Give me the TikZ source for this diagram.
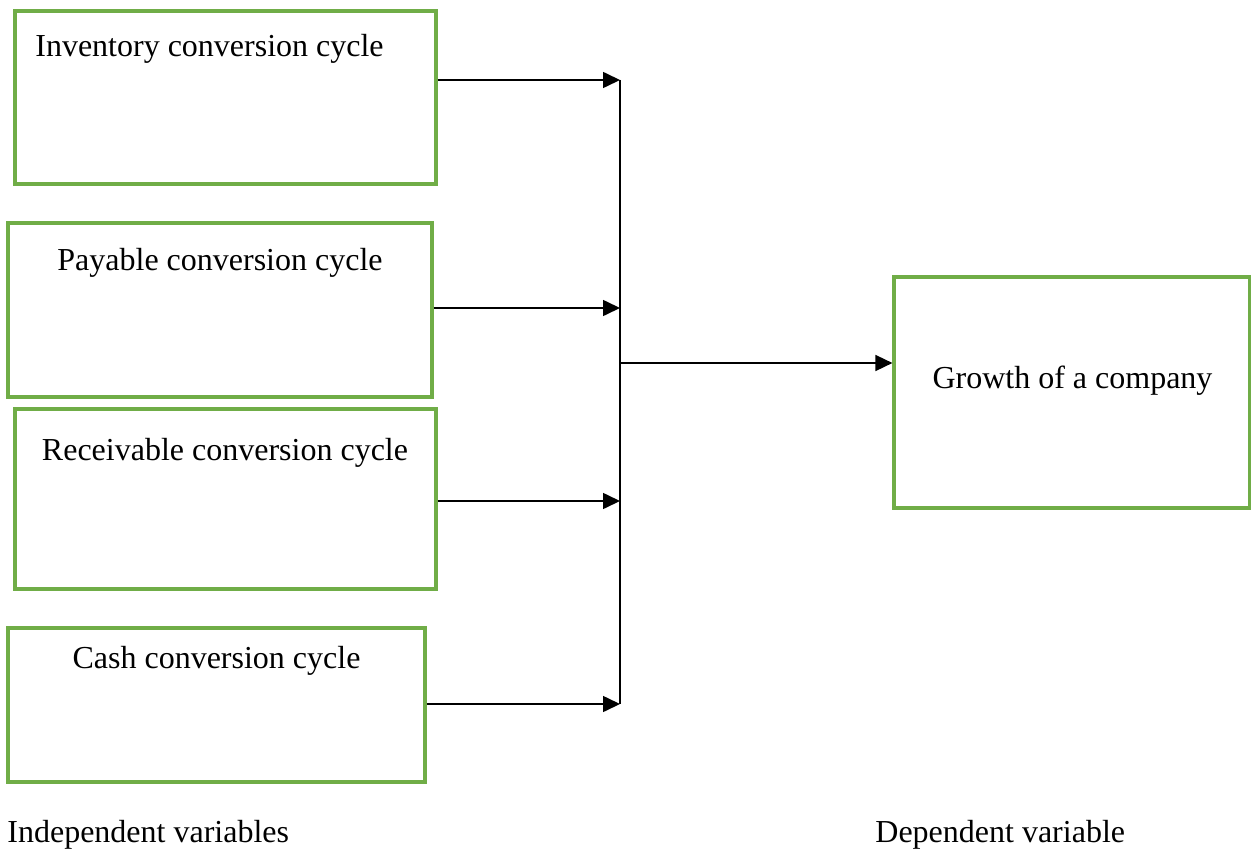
\documentclass[tikz,border=0pt]{standalone}
\usepackage{fontspec}
\setmainfont{Liberation Serif}
\usetikzlibrary{arrows.meta,fit}
\definecolor{boxgreen}{RGB}{112,173,71}
\begin{document}
\begin{tikzpicture}[x=0.5pt,y=-0.5pt,
    box/.style={draw=boxgreen,line width=1.6pt,inner sep=0pt},
    txt/.style={anchor=base,inner sep=0pt,font=\fontsize{16}{19}\selectfont},
    link/.style={line width=0.8pt},
    arr/.style={link,-{Triangle[length=8.5pt,width=8pt]}}]
  \useasboundingbox (0,0) rectangle (1251,850);
  % boxes on the left
  \node[box,fit={(15,11) (436,184)}] (inv) {};
  \node[box,fit={(8,223) (432,397)}] (pay) {};
  \node[box,fit={(15,409) (436,589)}] (rec) {};
  \node[box,fit={(8,628) (425,782)}] (cash) {};
  \node[box,fit={(894,277) (1249.5,508)}] (grow) {};
  \node[txt] (invt) at (209.5,57) {Inventory conversion cycle};
  \node[txt] (payt) at (220,270) {Payable conversion cycle};
  \node[txt] (rect) at (225,460) {Receivable conversion cycle};
  \node[txt] (casht) at (216.5,668) {Cash conversion cycle};
  \node[txt] (growt) at (1072.5,388) {Growth of a company};
  \node[txt,anchor=base west] (ind) at (7,842) {Independent variables};
  \node[txt,anchor=base west] (dep) at (875,842) {Dependent variable};
  % the bus
  \coordinate (b1) at (620,80);
  \coordinate (b2) at (620,308);
  \coordinate (b3) at (620,501);
  \coordinate (b4) at (620,704);
  \coordinate (m) at (620,363);
  \path[draw,link] (b1) -- (b4);
  \draw[arr] (inv.east |- b1) -- (b1);
  \draw[arr] (pay.east |- b2) -- (b2);
  \draw[arr] (rec.east |- b3) -- (b3);
  \draw[arr] (cash.east |- b4) -- (b4);
  \draw[arr] (m) -- (grow.west |- m);
\end{tikzpicture}
\end{document}
